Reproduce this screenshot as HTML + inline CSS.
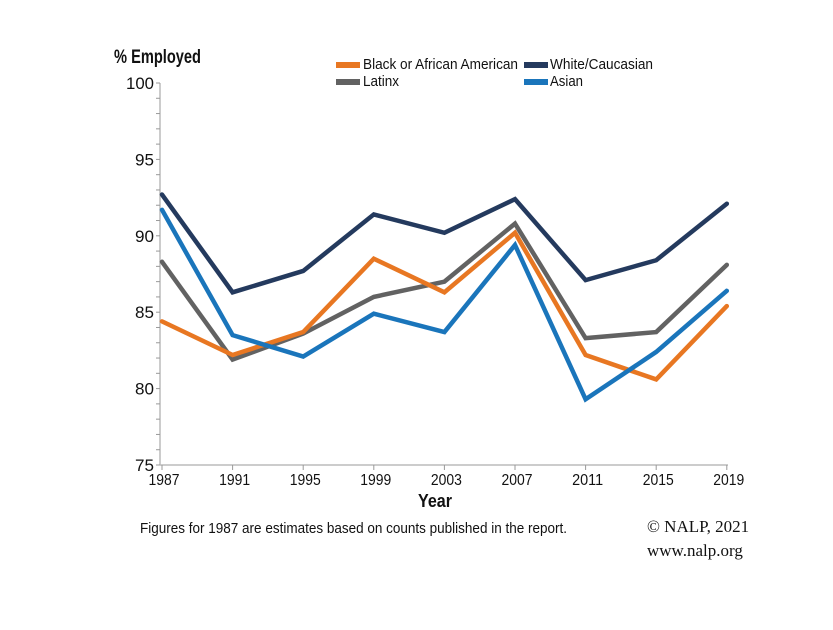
<!DOCTYPE html>
<html><head><meta charset="utf-8"><style>
body{margin:0;background:#fff;width:833px;height:625px;overflow:hidden}
text{font-family:"Liberation Sans Narrow","Liberation Sans",sans-serif;fill:#111}
</style></head><body>
<svg id="s" width="833" height="625" xmlns="http://www.w3.org/2000/svg">
<text x="114" y="63" font-size="19" font-weight="bold" textLength="87" lengthAdjust="spacingAndGlyphs">% Employed</text>
<rect x="336" y="62" width="24" height="6" fill="#e87722"/>
<text x="363" y="69" font-size="15" textLength="155" lengthAdjust="spacingAndGlyphs">Black or African American</text>
<rect x="524" y="62" width="24" height="6" fill="#243a5e"/>
<text x="550" y="69" font-size="15" textLength="103" lengthAdjust="spacingAndGlyphs">White/Caucasian</text>
<rect x="336" y="79" width="24" height="6" fill="#626262"/>
<text x="363" y="86" font-size="15" textLength="36" lengthAdjust="spacingAndGlyphs">Latinx</text>
<rect x="524" y="79" width="24" height="6" fill="#1a75bb"/>
<text x="550" y="86" font-size="15" textLength="33" lengthAdjust="spacingAndGlyphs">Asian</text>
<g id="ax"></g>
<g id="ln" fill="none" stroke-width="4.5" stroke-linejoin="miter" stroke-linecap="round"></g>
<text x="435" y="507" font-size="18" font-weight="bold" text-anchor="middle" textLength="34" lengthAdjust="spacingAndGlyphs">Year</text>
<text x="140" y="533" font-size="14.5" textLength="427" lengthAdjust="spacingAndGlyphs">Figures for 1987 are estimates based on counts published in the report.</text>
<text x="647" y="532" font-size="17" style="font-family:'Liberation Serif',serif">© NALP, 2021</text>
<text x="647" y="556" font-size="17" style="font-family:'Liberation Serif',serif">www.nalp.org</text>
</svg>
<script>
var Y=function(v){return 83+(100-v)*15.28},X=function(i){return 162+i*70.6};
var ax='<line x1="160" y1="83" x2="160" y2="465" stroke="#bbb" stroke-width="1.5"/><line x1="160" y1="465" x2="728" y2="465" stroke="#bbb" stroke-width="1.5"/>';
for(var v=75;v<=100;v++){var y=Y(v);ax+='<line x1="156" x2="160" y1="'+y+'" y2="'+y+'" stroke="#999" stroke-width="1"/>';
if(v%5==0)ax+='<text x="154" y="'+(y+6)+'" font-size="17" text-anchor="end" textLength="'+(v==100?28:19)+'" lengthAdjust="spacingAndGlyphs">'+v+'</text>';}
var yrs=[1987,1991,1995,1999,2003,2007,2011,2015,2019];
for(var i=0;i<9;i++){var x=X(i);ax+='<line x1="'+x+'" x2="'+x+'" y1="465" y2="470" stroke="#999"/>';
ax+='<text x="'+(x+2)+'" y="485" font-size="16" text-anchor="middle" textLength="31" lengthAdjust="spacingAndGlyphs">'+yrs[i]+'</text>';}
document.getElementById('ax').innerHTML=ax;
var d=[["#626262",[88.3,81.9,83.6,86.0,87.0,90.8,83.3,83.7,88.1]],
["#e87722",[84.4,82.2,83.7,88.5,86.3,90.2,82.2,80.6,85.4]],
["#1a75bb",[91.7,83.5,82.1,84.9,83.7,89.4,79.3,82.4,86.4]],
["#243a5e",[92.7,86.3,87.7,91.4,90.2,92.4,87.1,88.4,92.1]]];
var l='';d.forEach(function(s){l+='<polyline stroke="'+s[0]+'" points="'+s[1].map(function(v,i){return X(i)+','+Y(v)}).join(' ')+'"/>'});
document.getElementById('ln').innerHTML=l;
</script>
</body></html>
